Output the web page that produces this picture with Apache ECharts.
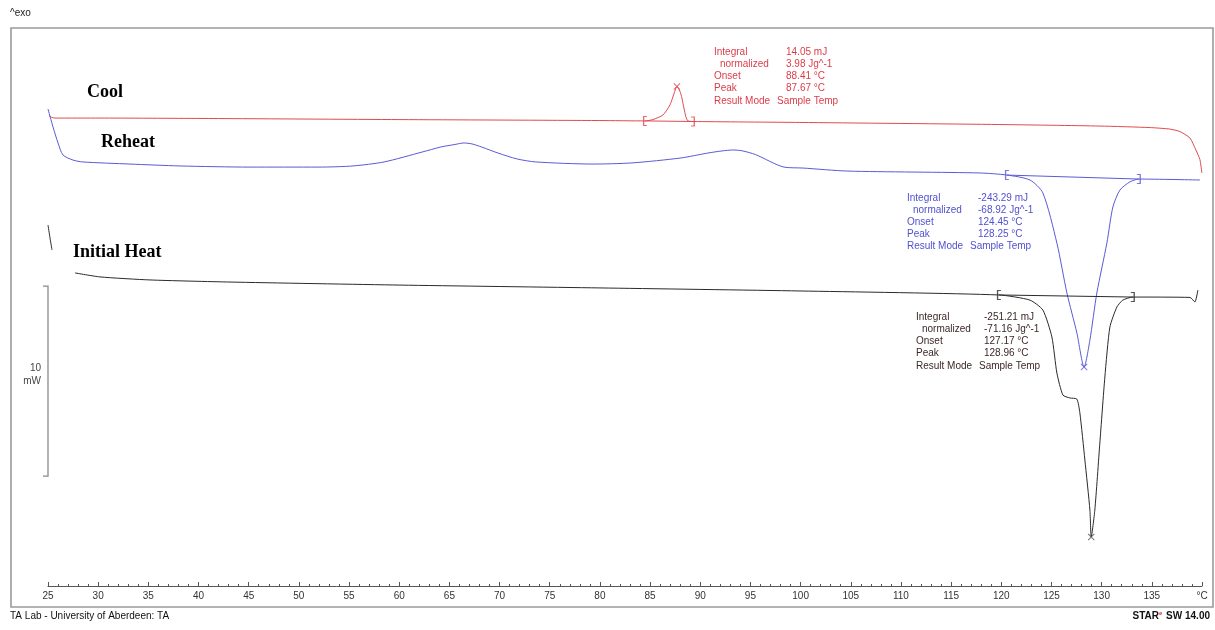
<!DOCTYPE html>
<html>
<head>
<meta charset="utf-8">
<script src="https://cdn.jsdelivr.net/npm/echarts@6/dist/echarts.min.js"></script>
<style>html,body{margin:0;padding:0;background:#fff;}#c{width:1215px;height:630px;}</style>
</head>
<body>
<div id="c"></div>
<script>
// ---- data (temperature °C, heat flow mW with arbitrary offset) ----
const coolT  = [25.10, 25.40, 25.70, 30.18, 40.15, 60.07, 80.00, 84.49, 85.28, 86.28, 86.98, 87.47, 87.67, 87.97, 88.17, 88.37, 88.57, 88.77, 89.27, 99.93, 119.86, 129.82, 134.81, 136.80, 137.80, 138.80, 139.39, 139.79, 139.99];
const coolHF = [24.60, 24.50, 24.47, 24.47, 24.45, 24.39, 24.34, 24.32, 24.39, 24.63, 25.16, 25.89, 26.13, 25.89, 25.53, 25.00, 24.53, 24.32, 24.29, 24.24, 24.13, 24.05, 23.97, 23.89, 23.76, 23.42, 22.79, 22.29, 21.58];

const reheatT  = [25.00, 25.50, 26.00, 26.49, 27.49, 28.49, 33.17, 38.15, 45.13, 52.00, 55.39, 58.48, 62.27, 64.16, 65.55, 66.45, 67.25, 68.20, 69.84, 71.73, 73.62, 79.30, 83.19, 88.07, 90.76, 92.16, 93.25, 94.15, 95.50, 98.34, 100.23, 104.71, 117.87, 120.56, 122.85, 124.14, 125.54, 126.54, 127.53, 128.25, 128.83, 129.52, 130.52, 131.12, 131.82, 132.81, 133.71, 139.79];
const reheatHF = [24.95, 24.00, 23.16, 22.53, 22.26, 22.16, 22.05, 21.95, 21.89, 21.89, 21.95, 22.16, 22.68, 22.95, 23.08, 23.16, 23.11, 22.95, 22.63, 22.32, 22.16, 22.05, 22.11, 22.37, 22.63, 22.74, 22.79, 22.75, 22.55, 21.89, 21.84, 21.68, 21.58, 21.47, 21.21, 20.53, 17.89, 15.26, 13.16, 11.37, 12.79, 15.26, 17.89, 19.79, 20.68, 21.11, 21.26, 21.21];

const initialT  = [25.00, 25.20, 25.40, 26.50, 27.69, 30.18, 35.16, 43.13, 60.07, 80.00, 99.93, 119.76, 122.85, 124.14, 125.04, 125.54, 126.14, 126.83, 127.53, 127.83, 128.33, 128.83, 128.96, 129.32, 129.82, 130.32, 130.82, 131.52, 132.11, 133.11, 138.80, 139.29, 139.59];
const initialHF = [18.84, 18.16, 17.53, null, 16.32, 16.11, 15.95, 15.84, 15.68, 15.53, 15.37, 15.16, 14.89, 14.37, 12.95, 11.05, 9.89, 9.74, 9.68, 8.95, 6.47, 3.84, 2.42, 3.84, 7.37, 10.84, 13.47, 14.53, 14.89, 15.05, 15.03, 14.79, 15.42];

// integration limits (baseline end points) and peaks
const coolLimitsT = [84.49, 89.27],   coolLimitsHF = [24.32, 24.29];
const reheatLimitsT = [120.56, 133.71], reheatLimitsHF = [21.47, 21.26];
const initialLimitsT = [119.76, 133.11], initialLimitsHF = [15.16, 15.05];
const peaksT  = [87.67, 128.25, 128.96];
const peaksHF = [26.13, 11.37, 2.42];

// 10 mW scale bar
const scaleBarTop = 15.63, scaleBarLen = 10;

// x-axis ticks
const xMin = 25, xMax = 140, xStep = 5, xUnit = '°C';

// annotations
const coolAnno = [['Integral','14.05 mJ'],['normalized','3.98 Jg^-1'],['Onset','88.41 °C'],['Peak','87.67 °C'],['Result Mode','Sample Temp']];
const reheatAnno = [['Integral','-243.29 mJ'],['normalized','-68.92 Jg^-1'],['Onset','124.45 °C'],['Peak','128.25 °C'],['Result Mode','Sample Temp']];
const initialAnno = [['Integral','-251.21 mJ'],['normalized','-71.16 Jg^-1'],['Onset','127.17 °C'],['Peak','128.96 °C'],['Result Mode','Sample Temp']];
const curveNames = ['Cool', 'Reheat', 'Initial Heat'];

// ---- build ----
const zip = (a, b) => a.map((v, i) => [v, b[i]]);
const RED = '#e04a4f', BLUE = '#5a5ad8', BLACK = '#2a2a2a';
const RED_T = '#dc3c48', BLUE_T = '#5050d0', BLACK_T = '#3c2828';
const bracketL = 'path://M0,0 L3,0 L3,1 L1,1 L1,9 L3,9 L3,10 L0,10 Z';
const bracketR = 'path://M0,0 L3,0 L3,10 L0,10 L0,9 L2,9 L2,1 L0,1 Z';
const xMark = 'path://M0,1 L1,0 L5,4 L9,0 L10,1 L6,5 L10,9 L9,10 L5,6 L1,10 L0,9 L4,5 Z';

function lineSeries(t, hf, color, smooth) {
  return { type: 'line', data: zip(t, hf), symbol: 'none', smooth: smooth, connectNulls: false,
    lineStyle: { color: color, width: 1 }, silent: true, animation: false, z: 3 };
}
function limitSeries(t, hf, color) {
  return { type: 'scatter', silent: true, animation: false, z: 5,
    data: [ { value: [t[0], hf[0]], symbol: bracketL }, { value: [t[1], hf[1]], symbol: bracketR } ],
    symbolSize: [4, 10], itemStyle: { color: color } };
}

const chart = echarts.init(document.getElementById('c'), null, { renderer: 'canvas' });
const option = {
  backgroundColor: '#ffffff',
  animation: false,
  grid: { left: 48, right: 13, top: 13, bottom: 47, containLabel: false },
  xAxis: {
    type: 'value', min: xMin, max: xMax, interval: xStep, offset: 3,
    axisLine: { show: true, onZero: false, lineStyle: { color: '#555', width: 1 } },
    axisTick: { show: true, inside: true, length: 4, lineStyle: { color: '#555' } },
    minorTick: { show: true, splitNumber: 5, length: 2, lineStyle: { color: '#555' } },
    splitLine: { show: false },
    axisLabel: { margin: 5, color: '#333', fontSize: 10, fontFamily: 'Liberation Sans',
      formatter: v => (v === xMax ? xUnit : String(v)) }
  },
  yAxis: { type: 'value', min: 0, max: 30, show: false, splitLine: { show: false } },
  series: [
    lineSeries(coolT, coolHF, RED, 0.2),
    lineSeries(reheatT, reheatHF, BLUE, 0.25),
    lineSeries(initialT, initialHF, BLACK, 0.2),
    lineSeries(coolLimitsT, coolLimitsHF, RED, false),
    lineSeries(reheatLimitsT, reheatLimitsHF, BLUE, false),
    lineSeries(initialLimitsT, initialLimitsHF, BLACK, false),
    limitSeries(coolLimitsT, coolLimitsHF, RED),
    limitSeries(reheatLimitsT, reheatLimitsHF, BLUE),
    limitSeries(initialLimitsT, initialLimitsHF, BLACK),
    { type: 'scatter', silent: true, animation: false, z: 6, symbol: xMark, symbolSize: 7,
      data: [
        { value: [peaksT[0], peaksHF[0]], itemStyle: { color: RED } },
        { value: [peaksT[1], peaksHF[1]], itemStyle: { color: BLUE } },
        { value: [peaksT[2], peaksHF[2]], itemStyle: { color: '#555' } }
      ] }
  ]
};
chart.setOption(option);

// ---- graphics: frame, texts, scale bar ----
const FONT = '10px "Liberation Sans"';
function txt(x, y, s, fill, font, align) {
  return { type: 'text', x: x, y: y, silent: true, z: 10,
    style: { text: s, fill: fill, font: font || FONT, align: align || 'left', verticalAlign: 'middle',
             textAlign: align || 'left', textVerticalAlign: 'middle' } };
}
function annoBlock(rows, lx, vx, sx, y0, dy, color) {
  const out = [];
  rows.forEach((r, i) => {
    const y = y0 + i * dy;
    out.push(txt(lx + (i === 1 ? 6 : 0), y, r[0], color));
    out.push(txt(i === 4 ? sx : vx, y, r[1], color));
  });
  return out;
}

const p0 = chart.convertToPixel({ gridIndex: 0 }, [xMin, scaleBarTop]);
const p1 = chart.convertToPixel({ gridIndex: 0 }, [xMin, scaleBarTop - scaleBarLen]);

const SERIF = 'bold 18px "Liberation Serif"';
const elements = [
  { type: 'rect', shape: { x: 11, y: 28, width: 1202, height: 579 }, silent: true, z: 1,
    style: { fill: 'none', stroke: '#9a9a9a', lineWidth: 1.6 } },
  { type: 'polyline', silent: true, z: 4,
    shape: { points: [[p0[0] - 5, p0[1]], [p0[0], p0[1]], [p1[0], p1[1]], [p1[0] - 5, p1[1]]] },
    style: { stroke: '#8a8a8a', lineWidth: 1.3, fill: 'none' } },
  txt(41, 368, '10', '#444', FONT, 'right'),
  txt(41, 381, 'mW', '#444', FONT, 'right'),
  txt(10, 13, '^exo', '#222', '10px "Liberation Sans"'),
  txt(10, 616, 'TA Lab - University of Aberdeen: TA', '#111', '10px "Liberation Sans"'),
  { type: 'text', silent: true, z: 10, x: 1210, y: 616,
    style: { text: '{a|STAR}{e|e}{a| SW 14.00}', align: 'right', verticalAlign: 'middle', textAlign: 'right', textVerticalAlign: 'middle',
      rich: { a: { font: 'bold 10px "Liberation Sans"', fill: '#111' }, e: { font: 'bold 6px "Liberation Sans"', fill: '#e03030', verticalAlign: 'top', padding: [0, 1, 5, 0] } } } },
  txt(87, 92, curveNames[0], '#000', SERIF),
  txt(101, 142, curveNames[1], '#000', SERIF),
  txt(73, 252, curveNames[2], '#000', SERIF)
].concat(
  annoBlock(coolAnno, 714, 786, 777, 52, 12.2, RED_T),
  annoBlock(reheatAnno, 907, 978, 970, 198, 12, BLUE_T),
  annoBlock(initialAnno, 916, 984, 979, 317, 12.2, BLACK_T)
);
chart.setOption({ graphic: { elements: elements } });
</script>
</body>
</html>
